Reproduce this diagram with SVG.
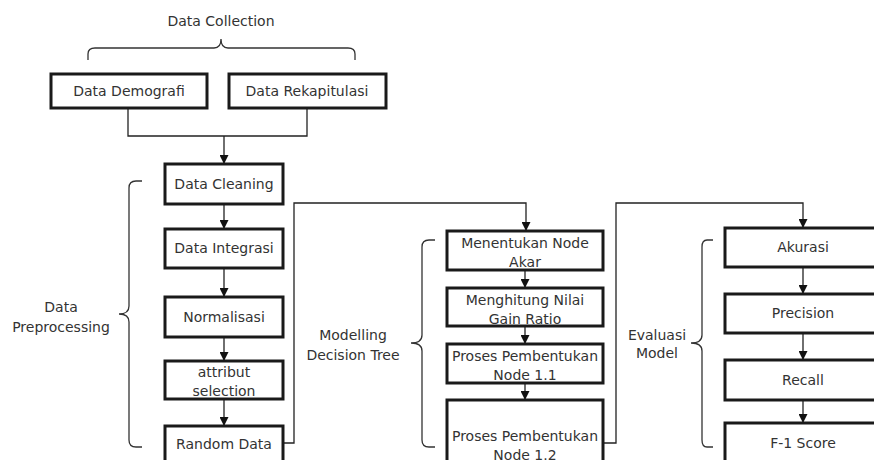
<svg xmlns="http://www.w3.org/2000/svg" width="874" height="460" viewBox="0 0 874 460">
<defs>
<marker id="arr" viewBox="0 0 10 10" refX="10" refY="5" markerWidth="9" markerHeight="9" markerUnits="userSpaceOnUse" orient="auto">
<path d="M0,0 L10,5 L0,10 Z" fill="#111"/>
</marker>
<style>
.box{fill:#fff;stroke:#1a1a1a;stroke-width:3}
.box2{fill:none;stroke:#777;stroke-width:1}
.t{font-family:"DejaVu Sans",sans-serif;font-size:14px;fill:#333;text-anchor:middle}
.lbl{font-family:"DejaVu Sans",sans-serif;font-size:14px;fill:#333;text-anchor:middle}
.c{fill:none;stroke:#222;stroke-width:1.3}
.ca{fill:none;stroke:#222;stroke-width:1.3;marker-end:url(#arr)}
.br{fill:none;stroke:#333;stroke-width:1.3}
</style>
</defs>
<rect width="874" height="460" fill="#fff"/>

<g id="braces">
<path class="br" d="M88,60 V54 Q88,48 95,48 H214 Q221,48 221,39 Q221,48 228,48 H348 Q355,48 355,54 V60"/>
<path class="br" d="M142,181 H136 Q129,181 129,188 V306 Q129,314 119,314 Q129,314 129,322 V440 Q129,447 136,447 H142"/>
<path class="br" d="M435,240 H429 Q422,240 422,247 V335 Q422,343 411,343 Q422,343 422,351 V440 Q422,447 429,447 H435"/>
<path class="br" d="M713,240 H707 Q702,240 702,247 V335 Q702,343 691,343 Q702,343 702,351 V440 Q702,447 707,447 H713"/>
</g>

<g id="labels">
<text class="lbl" x="221" y="26">Data Collection</text>
<text class="lbl" x="61" y="312">Data</text>
<text class="lbl" x="61" y="332">Preprocessing</text>
<text class="lbl" x="353" y="340">Modelling</text>
<text class="lbl" x="353" y="360">Decision Tree</text>
<text class="lbl" x="657" y="340">Evaluasi</text>
<text class="lbl" x="657" y="358">Model</text>
</g>

<g id="connectors">
<path class="c" d="M128,108 V136 H307 V108"/>
<path class="ca" d="M224,136 V164"/>
<path class="ca" d="M224,204 V229"/>
<path class="ca" d="M224,268 V297"/>
<path class="ca" d="M224,337 V361"/>
<path class="ca" d="M224,399 V426"/>
<path class="ca" d="M283,443 H294 V203 H526 V231"/>
<path class="ca" d="M525,270 V288"/>
<path class="ca" d="M525,326 V344"/>
<path class="ca" d="M525,383 V400"/>
<path class="ca" d="M603,443 H616 V203 H803 V228"/>
<path class="ca" d="M803,267 V294"/>
<path class="ca" d="M803,333 V360"/>
<path class="ca" d="M803,400 V423"/>
</g>

<g id="data-demografi">
<rect class="box" x="51" y="74" width="156" height="34"/>
<text class="t" x="129" y="96">Data Demografi</text>
</g>
<g id="data-rekapitulasi">
<rect class="box" x="229" y="74" width="157" height="34"/>
<text class="t" x="307" y="96">Data Rekapitulasi</text>
</g>

<g id="data-cleaning">
<rect class="box" x="165" y="164" width="118" height="40"/>
<text class="t" x="224" y="189">Data Cleaning</text>
</g>
<g id="data-integrasi">
<rect class="box" x="165" y="229" width="118" height="39"/>
<text class="t" x="224" y="253">Data Integrasi</text>
</g>
<g id="normalisasi">
<rect class="box" x="165" y="297" width="118" height="40"/>
<text class="t" x="224" y="322">Normalisasi</text>
</g>
<g id="attribut-selection">
<rect class="box" x="165" y="361" width="118" height="38"/>
<text class="t" x="224" y="377">attribut</text>
<text class="t" x="224" y="396">selection</text>
</g>
<g id="random-data">
<rect class="box" x="165" y="426" width="118" height="44"/>
<text class="t" x="224" y="449">Random Data</text>
</g>

<g id="menentukan-node-akar">
<rect class="box" x="447" y="231" width="156" height="39"/>
<text class="t" x="525" y="248">Menentukan Node</text>
<text class="t" x="525" y="267">Akar</text>
</g>
<g id="menghitung-nilai">
<rect class="box" x="447" y="288" width="156" height="38"/>
<text class="t" x="525" y="305">Menghitung Nilai</text>
<text class="t" x="525" y="324">Gain Ratio</text>
</g>
<g id="proses-node-1-1">
<rect class="box" x="447" y="344" width="156" height="39"/>
<text class="t" x="525" y="361">Proses Pembentukan</text>
<text class="t" x="525" y="380">Node 1.1</text>
</g>
<g id="proses-node-1-2">
<rect class="box" x="447" y="400" width="156" height="70"/>
<text class="t" x="525" y="441">Proses Pembentukan</text>
<text class="t" x="525" y="460">Node 1.2</text>
</g>

<g id="akurasi">
<rect class="box" x="725" y="228" width="156" height="39"/>
<text class="t" x="803" y="252">Akurasi</text>
</g>
<g id="precision">
<rect class="box" x="725" y="294" width="156" height="39"/>
<text class="t" x="803" y="318">Precision</text>
</g>
<g id="recall">
<rect class="box" x="725" y="360" width="156" height="40"/>
<text class="t" x="803" y="385">Recall</text>
</g>
<g id="f1-score">
<rect class="box" x="725" y="423" width="156" height="50"/>
<text class="t" x="803" y="448">F-1 Score</text>
</g>
</svg>
